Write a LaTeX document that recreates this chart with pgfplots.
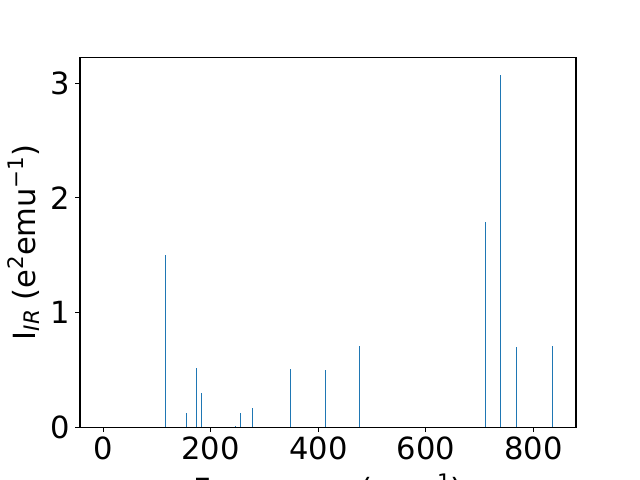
\documentclass[border=0pt]{standalone}
\usepackage{pgfplots}
\pgfplotsset{compat=1.18}
\usepackage{fontspec}
\setmainfont{DejaVu Sans}
\definecolor{mplblue}{RGB}{31,119,180}
\newcommand{\sups}[1]{\raisebox{8pt}{\fontsize{15.4}{15.4}\selectfont #1}}
\newcommand{\subs}[1]{\raisebox{-3pt}{\fontsize{15.4}{15.4}\selectfont\itshape #1}}
\begin{document}
\fontsize{22}{26}\selectfont
\begin{tikzpicture}
\begin{axis}[
  at={(57.6pt,38.016pt)}, anchor=south west,
  scale only axis, width=357.12pt, height=266.11pt,
  xmin=-43, xmax=879, ymin=0, ymax=3.2235,
  xtick={0,200,400,600,800}, ytick={0,1,2,3},
  xtick pos=left, ytick pos=left,
  tick align=outside, major tick length=3.5pt,
  tick style={black, line width=0.8pt},
  axis line style={line width=0.8pt},
  /pgf/number format/assume math mode=true,
  xticklabel style={anchor=north, inner sep=0pt, yshift=-3.5pt},
  yticklabel style={anchor=east, inner sep=0pt, xshift=-3.5pt},
  xlabel={Frequency (cm\sups{−1})},
  ylabel={I\subs{IR} (e\sups{2}emu\sups{−1})},
  xlabel style={at={(axis description cs:0.5,0)}, anchor=base, inner sep=0pt, yshift=-52.8pt},
  ylabel style={at={(axis description cs:0,0.5)}, anchor=base, inner sep=0pt, yshift=32.4pt},
]
\addplot[ycomb, color=mplblue, line width=0.75pt] coordinates {
(115.2,1.50) (154.3,0.12) (172.9,0.52) (182.2,0.30) (245.4,0.01)
(254.6,0.12) (277,0.17) (347.6,0.51) (412.6,0.50) (475.8,0.71)
(710,1.79) (737.9,3.07) (767.7,0.70) (834.6,0.71)
};
\end{axis}
\pgfresetboundingbox
\useasboundingbox (0,0) rectangle (460.8pt,345.6pt);
\end{tikzpicture}
\end{document}
